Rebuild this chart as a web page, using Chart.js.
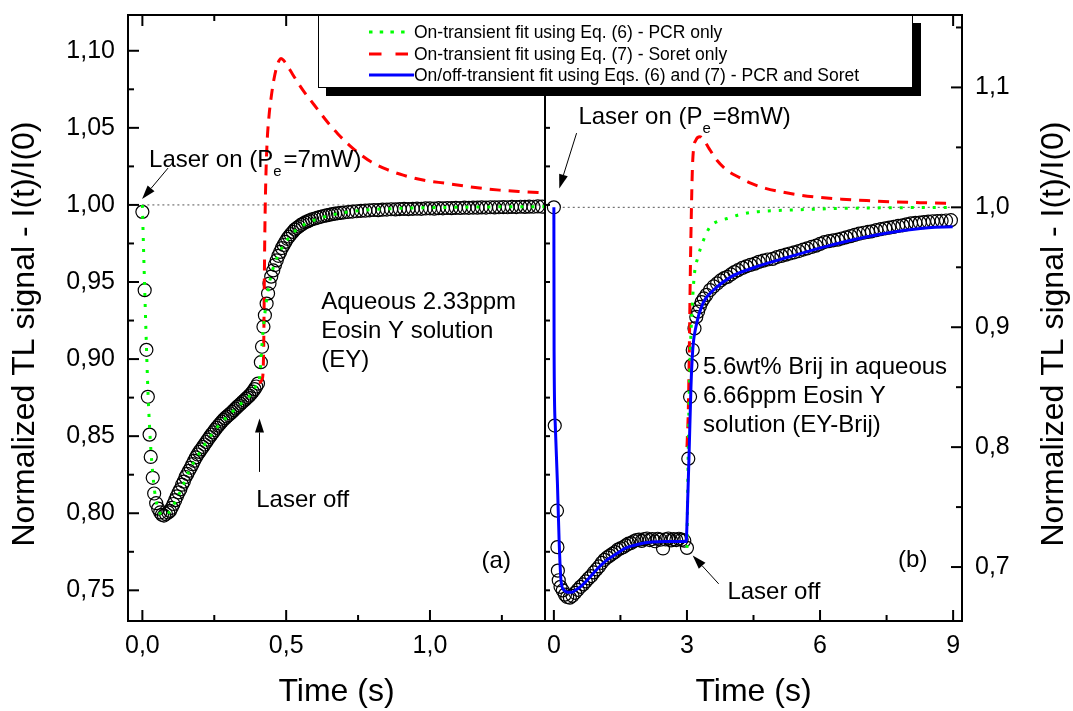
<!DOCTYPE html>
<html>
<head>
<meta charset="utf-8">
<script src="https://cdn.jsdelivr.net/npm/chart.js@4.4.1/dist/chart.umd.min.js"></script>
<style>
  html, body { margin: 0; background: #fff; }
  #wrap { position: relative; width: 1073px; height: 711px; overflow: hidden; }
  #wrap canvas { position: absolute; left: 0; top: 0; }
  #legend {
    position: absolute; left: 318px; top: 15px; width: 593px; height: 71px;
    border: 1px solid #000; background: #fff; box-shadow: 8px 8px 0 #000;
    font: 17.5px 'Liberation Sans', Arial, sans-serif; color: #000;
  }
  #legend .row { position: absolute; left: 50px; height: 22px; display: flex; align-items: center; white-space: nowrap; }
  #legend svg { margin-right: 3px; }
</style>
</head>
<body>
<div id="wrap">
  <canvas id="panelA" width="1073" height="711"></canvas>
  <canvas id="panelB" width="1073" height="711"></canvas>
  <div id="legend">
    <div class="row" style="top:5px"><svg width="42" height="6"><line x1="0" y1="3" x2="42" y2="3" stroke="#00ff00" stroke-width="3" stroke-dasharray="3.5 7.2"/></svg>On-transient fit using Eq. (6) - PCR only</div>
    <div class="row" style="top:27px"><svg width="42" height="6"><line x1="0" y1="3" x2="42" y2="3" stroke="#ff0000" stroke-width="3" stroke-dasharray="12.5 14"/></svg>On-transient fit using Eq. (7) - Soret only</div>
    <div class="row" style="top:48px"><svg width="45" height="6" style="margin-right:0"><line x1="0" y1="3" x2="45" y2="3" stroke="#0000ff" stroke-width="3"/></svg>On/off-transient fit using Eqs. (6) and (7) - PCR and Soret</div>
  </div>
</div>
<script>
// ---- panel (a): aqueous EY, left axis ----
const aTime = [0, 0.008, 0.014, 0.019, 0.025, 0.029, 0.036, 0.041, 0.048, 0.055,
  0.062, 0.068, 0.075, 0.082, 0.090, 0.096, 0.102, 0.108, 0.114, 0.120,
  0.126, 0.132, 0.138, 0.144, 0.150, 0.156, 0.162, 0.168, 0.174, 0.180,
  0.186, 0.192, 0.198, 0.204, 0.210, 0.216, 0.222, 0.228, 0.234, 0.240,
  0.246, 0.252, 0.258, 0.264, 0.270, 0.276, 0.282, 0.288, 0.294, 0.300,
  0.306, 0.312, 0.318, 0.324, 0.330, 0.336, 0.342, 0.348, 0.354, 0.360,
  0.366, 0.372, 0.378, 0.384, 0.390, 0.396, 0.402, 0.412, 0.416, 0.421,
  0.426, 0.432, 0.437, 0.442, 0.448, 0.455, 0.461, 0.467, 0.473, 0.479,
  0.485, 0.491, 0.497, 0.504, 0.510, 0.516, 0.523, 0.530, 0.537, 0.544,
  0.551, 0.558, 0.566, 0.574, 0.582, 0.590, 0.600, 0.610, 0.620, 0.630,
  0.640, 0.650, 0.660, 0.670, 0.680, 0.690, 0.700, 0.715, 0.730, 0.745,
  0.760, 0.775, 0.790, 0.805, 0.820, 0.835, 0.850, 0.865, 0.880, 0.895,
  0.910, 0.925, 0.940, 0.955, 0.970, 0.985, 1.000, 1.015, 1.030, 1.045,
  1.060, 1.075, 1.090, 1.105, 1.120, 1.135, 1.150, 1.165, 1.180, 1.195,
  1.210, 1.225, 1.240, 1.255, 1.270, 1.285, 1.300, 1.315, 1.330, 1.345,
  1.360, 1.375, 1.390]
const aSignal = [0.9955, 0.9447, 0.906, 0.8755, 0.851, 0.8365, 0.823, 0.8128, 0.8065, 0.803,
  0.8005, 0.799, 0.7985, 0.7995, 0.8005, 0.8015, 0.8035, 0.806, 0.8085, 0.811,
  0.8135, 0.8155, 0.8185, 0.8205, 0.8235, 0.8255, 0.8275, 0.8295, 0.8318, 0.834,
  0.8362, 0.8381, 0.8398, 0.8414, 0.843, 0.8446, 0.8462, 0.8478, 0.8494, 0.851,
  0.8524, 0.854, 0.8554, 0.8568, 0.8581, 0.8594, 0.8606, 0.8617, 0.8627, 0.8637,
  0.8647, 0.8657, 0.8668, 0.8679, 0.869, 0.87, 0.871, 0.8721, 0.8731, 0.8742,
  0.8752, 0.8763, 0.8775, 0.8789, 0.8805, 0.8822, 0.8841, 0.898, 0.908, 0.921,
  0.9285, 0.936, 0.9426, 0.949, 0.9535, 0.9575, 0.961, 0.964, 0.967, 0.9695,
  0.972, 0.974, 0.976, 0.978, 0.9795, 0.981, 0.9825, 0.984, 0.985, 0.986,
  0.987, 0.9878, 0.9887, 0.9893, 0.99, 0.9907, 0.9912, 0.9918, 0.9923, 0.9928,
  0.9932, 0.9936, 0.994, 0.9943, 0.9946, 0.9949, 0.9951, 0.9954, 0.9957, 0.9959,
  0.9962, 0.9963, 0.9965, 0.9967, 0.9966, 0.9969, 0.997, 0.9972, 0.9971, 0.9973,
  0.9974, 0.9973, 0.9975, 0.9976, 0.9975, 0.9977, 0.9978, 0.9976, 0.9979, 0.9978,
  0.998, 0.9979, 0.9981, 0.998, 0.9982, 0.9981, 0.9983, 0.9982, 0.9984, 0.9983,
  0.9985, 0.9984, 0.9985, 0.9986, 0.9985, 0.9987, 0.9986, 0.9988, 0.9987, 0.9989,
  0.9988, 0.999, 0.9989]

const aPcrTime = [0, 0.004, 0.008, 0.012, 0.016, 0.020, 0.025, 0.030, 0.036, 0.042,
  0.050, 0.060, 0.070, 0.080, 0.090, 0.100, 0.120, 0.140, 0.160, 0.180,
  0.200, 0.225, 0.250, 0.275, 0.300, 0.325, 0.350, 0.375, 0.400, 0.405,
  0.410, 0.415, 0.420, 0.425, 0.430, 0.440, 0.450, 0.460, 0.470, 0.480,
  0.500, 0.520, 0.540, 0.560, 0.580, 0.600, 0.650, 0.700, 0.750, 0.800,
  0.900, 1.000, 1.100, 1.200, 1.300, 1.400]
const aPcrFit = [1.0, 0.972, 0.946, 0.921, 0.897, 0.876, 0.856, 0.84, 0.826, 0.815,
  0.806, 0.8005, 0.7985, 0.7985, 0.800, 0.8025, 0.8095, 0.8175, 0.8265, 0.8335,
  0.8395, 0.847, 0.8535, 0.859, 0.8635, 0.868, 0.8722, 0.8765, 0.8835, 0.8845,
  0.893, 0.907, 0.919, 0.928, 0.936, 0.948, 0.956, 0.962, 0.9665, 0.9705,
  0.9765, 0.981, 0.9845, 0.987, 0.9888, 0.9903, 0.9931, 0.995, 0.9962, 0.997,
  0.9978, 0.9982, 0.9985, 0.9987, 0.9988, 0.9989]

const aSoretTime = [0.405, 0.418, 0.422, 0.424, 0.426, 0.429, 0.433, 0.440, 0.448, 0.457,
  0.467, 0.475, 0.482, 0.490, 0.500, 0.515, 0.535, 0.560, 0.597, 0.647,
  0.680, 0.721, 0.760, 0.795, 0.850, 0.907, 0.980, 1.056, 1.150, 1.242,
  1.320, 1.400]
const aSoretFit = [0.8845, 0.888, 0.91, 0.95, 0.985, 1.015, 1.038, 1.057, 1.07, 1.081,
  1.0895, 1.0935, 1.095, 1.094, 1.0915, 1.087, 1.081, 1.074, 1.065, 1.053,
  1.046, 1.0385, 1.0325, 1.028, 1.023, 1.0193, 1.016, 1.014, 1.0115, 1.0096,
  1.0086, 1.0078]

const aXTicks = [0, 0.5, 1.0]
const aXMinor = [0.25, 0.75, 1.25]
const aYTicks = [0.75, 0.80, 0.85, 0.90, 0.95, 1.00, 1.05, 1.10]
const aYMinor = [0.775, 0.825, 0.875, 0.925, 0.975, 1.025, 1.075]

// ---- panel (b): EY-Brij, right axis ----
const bTime = [0, 0.02, 0.07, 0.08, 0.09, 0.11, 0.15, 0.20, 0.25, 0.30,
  0.36, 0.42, 0.48, 0.54, 0.60, 0.66, 0.72, 0.78, 0.84, 0.90,
  0.96, 1.02, 1.08, 1.14, 1.20, 1.26, 1.32, 1.38, 1.44, 1.50,
  1.56, 1.62, 1.68, 1.74, 1.80, 1.86, 1.92, 1.98, 2.04, 2.10,
  2.16, 2.22, 2.28, 2.34, 2.40, 2.46, 2.52, 2.58, 2.64, 2.70,
  2.76, 2.82, 2.88, 2.94, 3.00, 3.03, 3.07, 3.10, 3.13, 3.17,
  3.21, 3.25, 3.29, 3.33, 3.38, 3.44, 3.52, 3.60, 3.68, 3.76,
  3.84, 3.91, 3.99, 4.07, 4.15, 4.25, 4.34, 4.43, 4.53, 4.62,
  4.72, 4.82, 4.93, 5.03, 5.13, 5.23, 5.32, 5.42, 5.52, 5.62,
  5.71, 5.81, 5.91, 6.00, 6.10, 6.20, 6.30, 6.40, 6.49, 6.59,
  6.69, 6.78, 6.88, 6.98, 7.08, 7.17, 7.27, 7.37, 7.47, 7.56,
  7.66, 7.76, 7.86, 7.95, 8.05, 8.15, 8.25, 8.34, 8.44, 8.54,
  8.64, 8.74, 8.84, 8.95]
const bSignal = [1.000, 0.818, 0.747, 0.7166, 0.697, 0.689, 0.6835, 0.6805, 0.677, 0.675,
  0.6745, 0.676, 0.6785, 0.681, 0.6835, 0.6855, 0.688, 0.6905, 0.6925, 0.6955,
  0.698, 0.7005, 0.7035, 0.706, 0.708, 0.7095, 0.711, 0.7125, 0.7145, 0.7155,
  0.7165, 0.718, 0.7195, 0.720, 0.7215, 0.7225, 0.7228, 0.7218, 0.7232, 0.7238,
  0.7225, 0.7234, 0.7215, 0.7236, 0.7228, 0.7155, 0.723, 0.7238, 0.7222, 0.7232,
  0.7225, 0.7236, 0.7228, 0.722, 0.716, 0.7904, 0.842, 0.868, 0.881, 0.899,
  0.9086, 0.913, 0.917, 0.921, 0.924, 0.927, 0.931, 0.934, 0.9365, 0.939,
  0.941, 0.942, 0.944, 0.946, 0.9476, 0.9495, 0.9508, 0.952, 0.953, 0.9545,
  0.9555, 0.9565, 0.957, 0.9585, 0.9595, 0.9605, 0.9615, 0.9625, 0.9635, 0.9648,
  0.9657, 0.967, 0.968, 0.9695, 0.971, 0.9718, 0.9725, 0.973, 0.974, 0.975,
  0.976, 0.977, 0.978, 0.9788, 0.9795, 0.980, 0.981, 0.9818, 0.9825, 0.983,
  0.9837, 0.9845, 0.985, 0.9858, 0.9866, 0.987, 0.9873, 0.9877, 0.988, 0.9884,
  0.9886, 0.9888, 0.989, 0.9893]

const bFullTime = [0, 0.005, 0.03, 0.08, 0.12, 0.16, 0.22, 0.32, 0.40, 0.50,
  0.63, 0.80, 1.02, 1.20, 1.41, 1.60, 1.80, 2.00, 2.19, 2.50,
  2.98, 3.02, 3.05, 3.09, 3.13, 3.20, 3.36, 3.60, 3.99, 4.53,
  5.32, 6.10, 6.88, 7.66, 8.44, 8.99]
const bFullFit = [1.0, 0.88, 0.82, 0.77, 0.72, 0.689, 0.681, 0.679, 0.679, 0.681,
  0.6846, 0.691, 0.700, 0.706, 0.711, 0.7155, 0.718, 0.7198, 0.7208, 0.7212,
  0.7212, 0.76, 0.797, 0.85, 0.881, 0.900, 0.920, 0.931, 0.942, 0.950,
  0.9588, 0.967, 0.974, 0.9795, 0.983, 0.9837]

const bPcrTime = [3.00, 3.03, 3.06, 3.09, 3.13, 3.17, 3.25, 3.35, 3.52, 3.70,
  3.91, 4.20, 4.53, 5.00, 5.71, 6.50, 7.50, 8.83, 9.00]
const bPcrFit = [0.716, 0.80, 0.86, 0.895, 0.925, 0.945, 0.9587, 0.9705, 0.9837, 0.9885,
  0.9907, 0.994, 0.9962, 0.9973, 0.9982, 0.9991, 0.9996, 0.9999, 0.9999]

const bSoretTime = [3.00, 3.03, 3.05, 3.07, 3.09, 3.13, 3.20, 3.29, 3.40, 3.50,
  3.68, 3.90, 4.15, 4.45, 4.77, 5.15, 5.55, 6.00, 6.49, 7.05,
  7.66, 8.25, 8.83, 8.99]
const bSoretFit = [0.80, 0.83, 0.8725, 0.93, 0.978, 1.039, 1.056, 1.0589, 1.055, 1.049,
  1.039, 1.031, 1.0255, 1.02, 1.0158, 1.0127, 1.0102, 1.0083, 1.0068, 1.0056,
  1.0046, 1.0039, 1.0033, 1.0032]

const bXTicks = [0, 3, 6, 9]
const bXMinor = [1.5, 4.5, 7.5]
const bYTicks = [0.7, 0.8, 0.9, 1.0, 1.1]
const bYMinor = [0.75, 0.85, 0.95, 1.05, 1.15]

const FONT = "'Liberation Sans', Arial, sans-serif"
Chart.defaults.font.family = FONT
Chart.defaults.color = '#000'

const comma = digits => v => Number(v).toFixed(digits).replace('.', ',')
const xy = (xs, ys) => xs.map((x, i) => ({ x, y: ys[i] }))

function circles(xs, ys) {
  return {
    data: xy(xs, ys), showLine: false, order: 5,
    pointRadius: 6.5, pointHoverRadius: 6.5, pointBorderWidth: 1.2,
    pointBorderColor: '#000', pointBackgroundColor: 'rgba(255,255,255,0)',
  }
}

function fitLine(xs, ys, color, dash, order) {
  return {
    data: xy(xs, ys), showLine: true, order,
    borderColor: color, borderWidth: 3, borderDash: dash, borderCapStyle: 'butt',
    cubicInterpolationMode: 'monotone', pointRadius: 0,
  }
}

function refLine(x0, x1) {
  return {
    data: [{ x: x0, y: 1 }, { x: x1, y: 1 }], showLine: true, order: 6,
    borderColor: '#555', borderWidth: 1, borderDash: [2, 3], pointRadius: 0,
  }
}

// fixed box sizes, and no extra label padding, so the plot frame lands where it should
function axisX(min, max, major, fmt) {
  return {
    type: 'linear', position: 'bottom', min, max,
    afterFit: s => { s.height = 90; s.paddingLeft = 0; s.paddingRight = 0 },
    afterBuildTicks: s => { s.ticks = major.map(value => ({ value })) },
    grid: { display: false, drawTicks: false },
    border: { display: false },
    ticks: { autoSkip: false, maxRotation: 0, padding: 10, font: { size: 25 }, color: '#000', callback: fmt },
    title: { display: true, text: 'Time (s)', font: { size: 32 }, color: '#000', padding: { top: 0, bottom: 0 } },
  }
}

function axisY(min, max, major, fmt, position, width) {
  return {
    type: 'linear', position, min, max,
    afterFit: s => { s.width = width; s.paddingTop = 0; s.paddingBottom = 0 },
    afterBuildTicks: s => { s.ticks = major.map(value => ({ value })) },
    grid: { display: false, drawTicks: false },
    border: { display: false },
    ticks: { autoSkip: false, padding: 13, font: { size: 25 }, color: '#000', callback: fmt },
  }
}

// frame with inward ticks on all sides (Origin style)
function framePlugin(cfg) {
  return {
    id: 'frame',
    afterDatasetsDraw(chart) {
      const { ctx, chartArea: a } = chart
      const sx = chart.scales.x, sy = chart.scales.y
      const seg = (x1, y1, x2, y2) => { ctx.beginPath(); ctx.moveTo(x1, y1); ctx.lineTo(x2, y2); ctx.stroke() }
      ctx.save()
      ctx.strokeStyle = '#000'
      ctx.lineWidth = 2
      ctx.strokeRect(a.left, a.top, a.width, a.height)
      const xTicks = (vals, len) => vals.forEach(v => {
        const p = sx.getPixelForValue(v)
        seg(p, a.bottom, p, a.bottom - len)
        seg(p, a.top, p, a.top + len)
      })
      xTicks(cfg.xMajor, 11)
      xTicks(cfg.xMinor, 6)
      const left = cfg.ySide === 'left'
      const inner = left ? a.left : a.right
      const outer = left ? a.right : a.left
      const dir = left ? 1 : -1
      const yTicks = (vals, len) => vals.forEach(v => {
        const p = sy.getPixelForValue(v)
        seg(inner, p, inner + dir * len, p)
        if (cfg.outerTick) seg(outer, p, outer + dir * cfg.outerTick, p)
      })
      yTicks(cfg.yMajor, 11)
      yTicks(cfg.yMinor, 6)
      ctx.restore()
    },
  }
}

// annotations, arrows and the rotated y title
function notesPlugin(cfg) {
  return {
    id: 'notes',
    afterDraw(chart) {
      const { ctx, chartArea: a } = chart
      const sx = chart.scales.x, sy = chart.scales.y
      const px = (x, y) => [sx.getPixelForValue(x), sy.getPixelForValue(y)]
      ctx.save()
      ctx.fillStyle = '#000'
      ctx.strokeStyle = '#000'
      ctx.textAlign = 'left'
      ctx.textBaseline = 'alphabetic'
      cfg.texts.forEach(t => {
        let [x, y] = px(t.x, t.y)
        t.parts.forEach(part => {
          const sub = typeof part !== 'string'
          const s = sub ? part.sub : part
          ctx.font = `${sub ? 15 : 24}px ${FONT}`
          ctx.fillText(s, x, sub ? y + 9 : y)
          x += ctx.measureText(s).width + (sub ? 2 : 0)
        })
      })
      ctx.lineWidth = 1
      cfg.arrows.forEach(([x0, y0, x1, y1]) => {
        const [ax, ay] = px(x0, y0), [bx, by] = px(x1, y1)
        const ang = Math.atan2(by - ay, bx - ax)
        const hl = 14, hw = 4.5
        const cx = bx - hl * Math.cos(ang), cy = by - hl * Math.sin(ang)
        ctx.beginPath(); ctx.moveTo(ax, ay); ctx.lineTo(cx, cy); ctx.stroke()
        ctx.beginPath()
        ctx.moveTo(bx, by)
        ctx.lineTo(cx + hw * Math.sin(ang), cy - hw * Math.cos(ang))
        ctx.lineTo(cx - hw * Math.sin(ang), cy + hw * Math.cos(ang))
        ctx.closePath(); ctx.fill()
      })
      ctx.font = `32px ${FONT}`
      ctx.textAlign = 'center'
      ctx.textBaseline = 'middle'
      ctx.translate(cfg.titleX, (a.top + a.bottom) / 2 + cfg.titleShift)
      ctx.rotate(-Math.PI / 2)
      ctx.fillText(cfg.title, 0, 0)
      ctx.restore()
    },
  }
}

const yTitle = 'Normalized TL signal - I(t)/I(0)'

function makeChart(id, datasets, scales, padding, plugins) {
  return new Chart(document.getElementById(id), {
    type: 'scatter',
    data: { datasets },
    options: {
      responsive: false, animation: false, devicePixelRatio: 1, events: [],
      layout: { padding },
      scales,
      plugins: { legend: { display: false }, tooltip: { enabled: false } },
    },
    plugins,
  })
}

makeChart('panelA', [
  fitLine(aPcrTime, aPcrFit, '#00ff00', [3, 8], 2),
  fitLine(aSoretTime, aSoretFit, '#ff0000', [11, 8], 3),
  circles(aTime, aSignal),
  refLine(0, 1.4),
], {
  x: axisX(-0.05, 1.4, aXTicks, comma(1)),
  y: axisY(0.7301, 1.1232, aYTicks, comma(2), 'left', 128),
}, { top: 15, right: 528, left: 0, bottom: 0 }, [
  framePlugin({ xMajor: aXTicks, xMinor: aXMinor, yMajor: aYTicks, yMinor: aYMinor, ySide: 'left', outerTick: 5 }),
  notesPlugin({
    title: yTitle, titleX: 25, titleShift: 16,
    texts: [
      { x: 0.0233, y: 1.0249, parts: ['Laser on (P', { sub: 'e' }, '=7mW)'] },
      { x: 0.396, y: 0.8041, parts: ['Laser off'] },
      { x: 0.622, y: 0.9324, parts: ['Aqueous 2.33ppm'] },
      { x: 0.622, y: 0.9136, parts: ['Eosin Y solution'] },
      { x: 0.622, y: 0.8947, parts: ['(EY)'] },
      { x: 1.1795, y: 0.7643, parts: ['(a)'] },
    ],
    arrows: [[0.0892, 1.0239, -0.001, 1.0038], [0.4073, 0.8268, 0.4073, 0.8615]],
  }),
])

makeChart('panelB', [
  fitLine(bFullTime, bFullFit, '#0000ff', [], 1),
  fitLine(bPcrTime, bPcrFit, '#00ff00', [3, 8], 2),
  fitLine(bSoretTime, bSoretFit, '#ff0000', [11, 8], 3),
  circles(bTime, bSignal),
  refLine(0.2, 9),
], {
  x: axisX(-0.2, 9.2, bXTicks, comma(0)),
  y: axisY(0.655, 1.1604, bYTicks, comma(1), 'right', 111),
}, { top: 15, left: 545, right: 0, bottom: 0 }, [
  framePlugin({ xMajor: bXTicks, xMinor: bXMinor, yMajor: bYTicks, yMinor: bYMinor, ySide: 'right', outerTick: 0 }),
  notesPlugin({
    title: yTitle, titleX: 1054, titleShift: 16,
    texts: [
      { x: 0.553, y: 1.0695, parts: ['Laser on (P', { sub: 'e' }, '=8mW)'] },
      { x: 3.912, y: 0.6735, parts: ['Laser off'] },
      { x: 3.361, y: 0.8609, parts: ['5.6wt% Brij in aqueous'] },
      { x: 3.361, y: 0.8366, parts: ['6.66ppm Eosin Y'] },
      { x: 3.361, y: 0.8124, parts: ['solution (EY-Brij)'] },
      { x: 7.76, y: 0.6997, parts: ['(b)'] },
    ],
    arrows: [[0.512, 1.0619, 0.122, 1.0158], [3.715, 0.686, 3.129, 0.7097]],
  }),
])
</script>
</body>
</html>
